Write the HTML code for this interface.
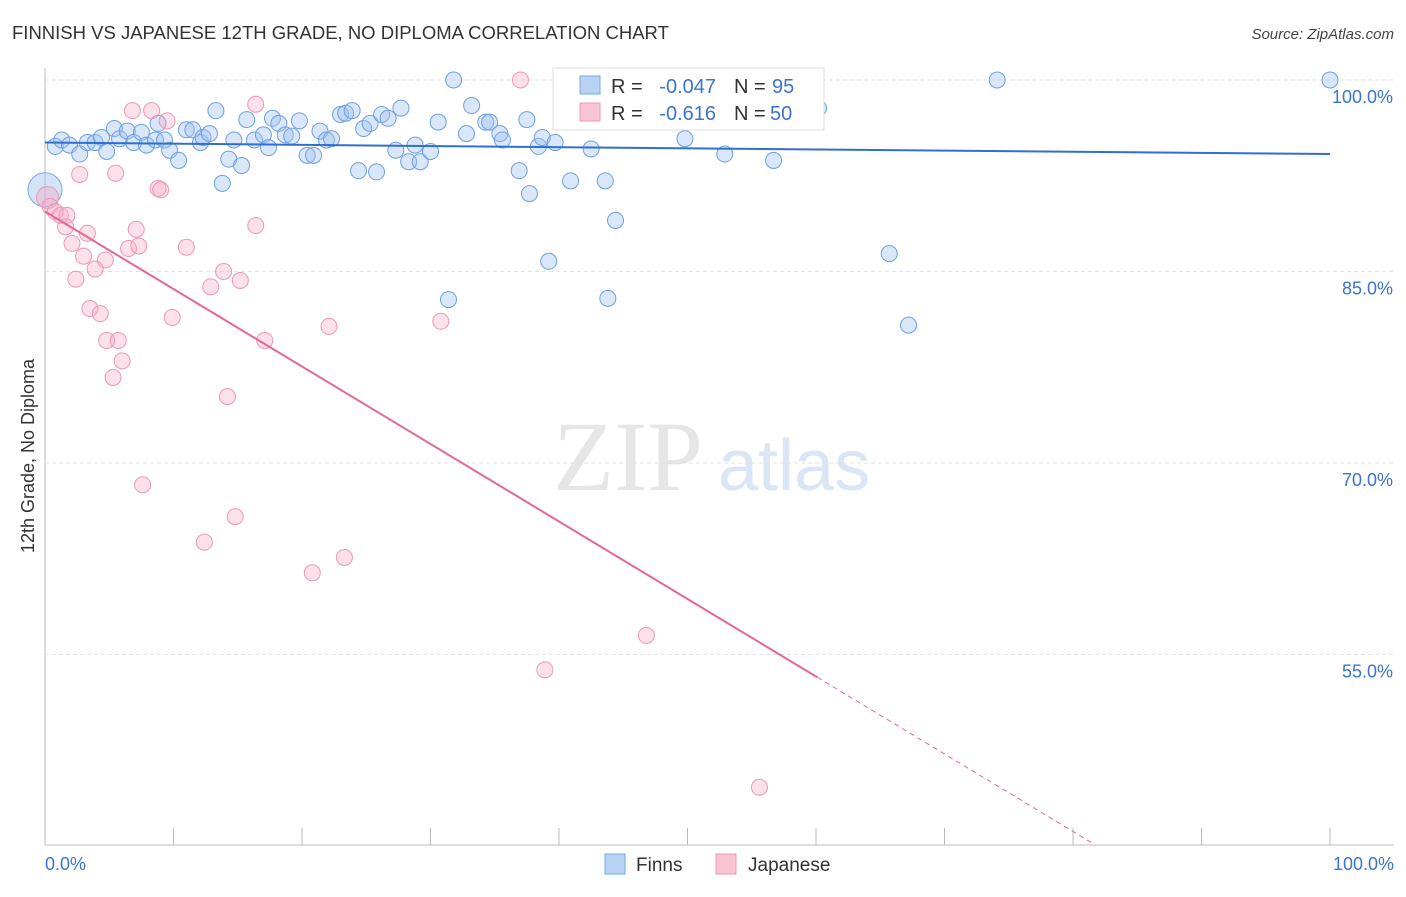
<!DOCTYPE html>
<html><head><meta charset="utf-8"><style>
body{margin:0;background:#fff;font-family:"Liberation Sans",sans-serif;}
</style></head><body>
<svg id="chart" width="1406" height="892" xmlns="http://www.w3.org/2000/svg">
<text x="12" y="39" font-size="18.5" fill="#333">FINNISH VS JAPANESE 12TH GRADE, NO DIPLOMA CORRELATION CHART</text>
<text x="1394" y="39" font-size="15" fill="#444" font-style="italic" text-anchor="end">Source: ZipAtlas.com</text>
<text x="553" y="490" font-size="100" fill="#e6e6e6" font-family="Liberation Serif,serif">ZIP</text>
<text x="718" y="490" font-size="72" fill="#dae6f5">atlas</text>
<text transform="translate(34,456) rotate(-90)" font-size="18" fill="#333" text-anchor="middle">12th Grade, No Diploma</text>
<g id="grid"></g><g id="pts"></g><g id="trend"></g>
<g>
<rect x="553" y="68" width="271" height="62" fill="#fff" stroke="#ddd"/>
<rect x="580" y="76" width="20" height="18" fill="#b8d2f4" stroke="#7aa8e6"/>
<rect x="580" y="103" width="20" height="18" fill="#f8c4d4" stroke="#eb98b5"/>
<text x="611" y="93" font-size="20" fill="#333">R =</text>
<text x="716" y="93" font-size="20" fill="#3a74d0" text-anchor="end">-0.047</text>
<text x="734" y="93" font-size="20" fill="#333">N =</text>
<text x="772" y="93" font-size="20" fill="#3a74d0">95</text>
<text x="611" y="120" font-size="20" fill="#333">R =</text>
<text x="716" y="120" font-size="20" fill="#3a74d0" text-anchor="end">-0.616</text>
<text x="734" y="120" font-size="20" fill="#333">N =</text>
<text x="770" y="120" font-size="20" fill="#3a74d0">50</text>
</g>
<g>
<rect x="605" y="854" width="20" height="20" fill="#b8d2f4" stroke="#7aa8e6"/>
<text x="636" y="871" font-size="19" fill="#333">Finns</text>
<rect x="716" y="854" width="20" height="20" fill="#f8c4d4" stroke="#eb98b5"/>
<text x="748" y="871" font-size="19" fill="#333">Japanese</text>
</g>
</svg>
<script>
const yTicks=[100,85,70,55];
const xTickLabels=["0.0%","100.0%"];
const finnsX=[0.8,1.3,1.9,2.7,3.3,3.9,4.4,4.8,5.4,5.8,6.4,6.9,7.5,7.9,8.6,8.8,9.3,9.7,10.4,11.0,11.5,12.1,12.3,12.8,13.3,13.8,14.3,14.7,15.3,15.7,16.3,17.0,17.4,17.7,18.2,18.7,19.2,19.8,20.4,20.9,21.4,21.9,22.3,23.0,23.4,23.9,24.4,24.8,25.3,25.8,26.2,26.7,27.3,27.7,28.3,28.8,29.2,30.0,30.6,31.4,31.8,32.8,33.2,34.3,34.6,35.4,35.6,36.9,37.5,37.7,38.4,38.7,39.2,39.7,40.9,41.5,42.5,43.6,43.8,44.4,45.1,49.8,51.8,52.9,55.8,56.7,58.9,60.2,65.7,67.2,74.1,100];
const finnsY=[94.8,95.3,94.9,94.2,95.1,95.1,95.5,94.4,96.2,95.4,96.0,95.1,95.9,94.9,95.3,96.6,95.3,94.5,93.7,96.1,96.1,95.1,95.5,95.8,97.6,91.9,93.8,95.3,93.3,96.9,95.3,95.7,94.7,97.0,96.6,95.7,95.6,96.8,94.1,94.1,96.0,95.3,95.4,97.3,97.4,97.6,92.9,96.2,96.6,92.8,97.3,97.0,94.5,97.8,93.6,94.9,93.6,94.4,96.7,82.8,100,95.8,98.0,96.7,96.7,95.8,95.3,92.9,96.9,91.1,94.8,95.5,85.8,95.1,92.1,98.7,94.6,92.1,82.9,89.0,96.9,95.4,98.7,94.2,100,93.7,100,97.8,86.4,80.8,100,100];
const japX=[0.4,0.8,1.2,1.7,1.6,2.1,2.4,2.7,3.0,3.3,3.5,3.9,4.3,4.7,4.8,5.3,5.5,5.7,6.0,6.5,6.8,7.1,7.3,7.6,8.3,8.8,9.0,9.5,9.9,11.0,12.4,12.9,13.9,14.2,14.8,15.2,16.4,16.4,17.1,20.8,22.1,23.3,30.8,37.0,38.9,46.8,55.6];
const japY=[90.1,89.7,89.4,89.4,88.5,87.2,84.4,92.6,86.2,88.0,82.1,85.2,81.7,85.9,79.6,76.7,92.7,79.6,78.0,86.8,97.6,88.3,87.0,68.3,97.6,91.5,91.4,96.8,81.4,86.9,63.8,83.8,85.0,75.2,65.8,84.3,98.1,88.6,79.6,61.4,80.7,62.6,81.1,100,53.8,56.5,44.6];
const finnsTrend=[95.1,94.2];
const japTrend=[89.7,-0.607];
const NS="http://www.w3.org/2000/svg";
const X=v=>45+v*12.85, Y=v=>80+(100-v)*12.767;
const g=document.getElementById('grid'),p=document.getElementById('pts'),t=document.getElementById('trend');
function mk(par,tag,a){const e=document.createElementNS(NS,tag);for(const k in a)e.setAttribute(k,a[k]);par.appendChild(e);return e;}
let ax=mk(g,'line',{x1:45,y1:68,x2:45,y2:845,stroke:'#bbb'});


let bx=mk(g,'line',{x1:45,y1:845,x2:1394,y2:845,stroke:'#bbb'});


yTicks.forEach(v=>{
 const l=mk(g,'line',{x1:45,x2:1394,y1:Y(v),y2:Y(v),stroke:'#e2e2e2','stroke-dasharray':'4,3'});
 
 
 const tx=mk(g,'text',{x:1393,y:Y(v)+23,'font-size':18,fill:'#3a74d0','text-anchor':'end'});
 tx.textContent=v.toFixed(1)+'%';
 
 
});
for(let i=0;i<=10;i++){
 const tk=mk(g,'line',{x1:X(i*10),x2:X(i*10),y1:828,y2:845,stroke:'#bbb'});
 
 
}
[[0,'start',45],[1,'end',1394]].forEach(([i,a,x])=>{
 const tx=mk(g,'text',{x:x,y:870,'font-size':18,fill:'#3a74d0','text-anchor':a});
 tx.textContent=xTickLabels[i];
 
 
});
const big1=mk(p,'circle',{cx:X(0),cy:Y(91.4),r:17,fill:'rgba(160,196,240,0.45)',stroke:'#7aa8e6'});


finnsX.forEach((x,i)=>{
 const c=mk(p,'circle',{cx:X(x),cy:Y(finnsY[i]),r:8,fill:'rgba(160,196,240,0.4)',stroke:'#6d9fe2','stroke-width':1});
 
 
});
const big2=mk(p,'circle',{cx:X(0.2),cy:Y(90.8),r:11,fill:'rgba(245,170,195,0.45)',stroke:'#eb98b5'});


japX.forEach((x,i)=>{
 const c=mk(p,'circle',{cx:X(x),cy:Y(japY[i]),r:8,fill:'rgba(245,170,195,0.35)',stroke:'#eb98b5','stroke-width':1});
 
 
});
const fl=mk(t,'line',{x1:X(0),y1:Y(finnsTrend[0]),x2:X(100),y2:Y(finnsTrend[1]),stroke:'#2f6fd0','stroke-width':2});


const jy=x=>japTrend[0]+japTrend[1]*x;
const xEnd=(40.1-japTrend[0])/japTrend[1];
const jl=mk(t,'line',{x1:X(0),y1:Y(jy(0)),x2:X(60.1),y2:Y(jy(60.1)),stroke:'#e4679a','stroke-width':2});


const jd=mk(t,'line',{x1:X(60.1),y1:Y(jy(60.1)),x2:X(xEnd),y2:Y(jy(xEnd)),stroke:'#e4679a','stroke-width':1,'stroke-dasharray':'5,4'});


</script>
</body></html>
